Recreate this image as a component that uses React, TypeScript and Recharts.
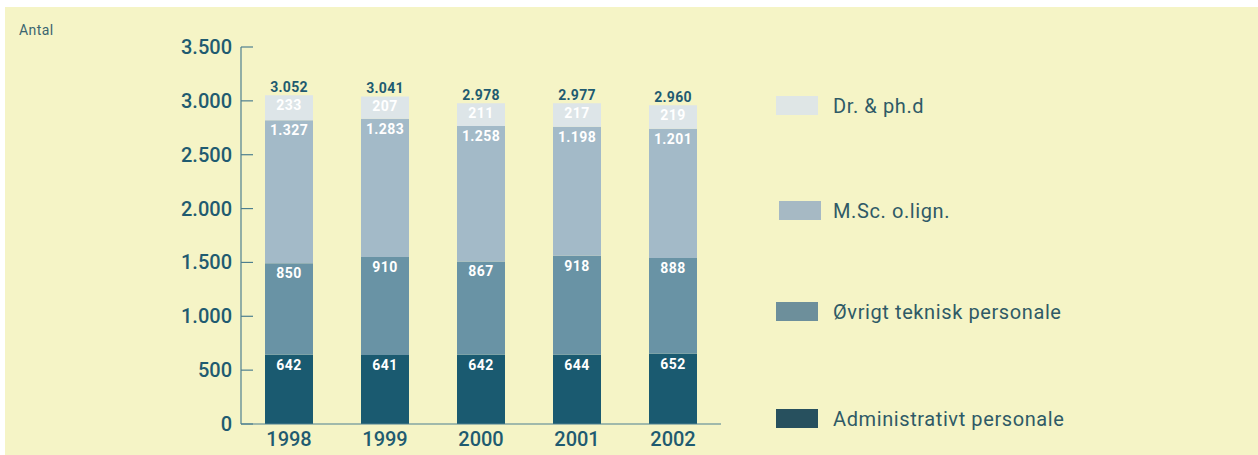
import React from 'react';
import { BarChart, Bar, XAxis, YAxis, LabelList } from 'recharts';

const years = ['1998', '1999', '2000', '2001', '2002'];
const admin = [642, 641, 642, 644, 652];
const tekniker = [850, 910, 867, 918, 888];
const msc = [1327, 1283, 1258, 1198, 1201];
const phd = [233, 207, 211, 217, 219];
const yTicks = [0, 500, 1000, 1500, 2000, 2500, 3000, 3500];

const seriesNames = ['Dr. & ph.d', 'M.Sc. o.lign.', 'Øvrigt teknisk personale', 'Administrativt personale'];
const barColors = ['#dde5e8', '#a3bac8', '#6993a5', '#1a5a70'];
const legendColors = ['#dfe6e6', '#a6b9c4', '#6d8f9b', '#27505e'];

const data = years.map((year, i) => ({
  year,
  admin: admin[i],
  tekniker: tekniker[i],
  msc: msc[i],
  phd: phd[i],
  total: admin[i] + tekniker[i] + msc[i] + phd[i],
}));

const FONT = 'Roboto, "DejaVu Sans", sans-serif';
const INK = '#1f5b70';
const AXIS = '#4d7f8f';

const fmt = (v: number) => v.toLocaleString('da-DK');

const YTick = (props: any) => {
  const { x, y, payload } = props;
  return (
    <g>
      <line x1={x} x2={x + 12} y1={y} y2={y} stroke={AXIS} strokeWidth={1.2} />
      <text x={x - 9} y={y} dy={7} textAnchor="end" fill={INK} fontSize={20} fontFamily={FONT} fontWeight={500}>
        {fmt(payload.value)}
      </text>
    </g>
  );
};

const XTick = (props: any) => {
  const { x, y, payload } = props;
  return (
    <text x={x} y={y} dy={20} textAnchor="middle" fill={INK} fontSize={20} fontFamily={FONT} fontWeight={500}>
      {payload.value}
    </text>
  );
};

const inside = (props: any) => {
  const { x, y, width, value } = props;
  return (
    <text x={x + width / 2} y={y + 15} textAnchor="middle" fill="#ffffff" fontSize={14} fontWeight={700} fontFamily={FONT} letterSpacing={0.4}>
      {fmt(value)}
    </text>
  );
};

const totalLabel = (props: any) => {
  const { x, y, width, value } = props;
  return (
    <text x={x + width / 2} y={y - 3} textAnchor="middle" fill={INK} fontSize={14} fontWeight={700} fontFamily={FONT} letterSpacing={0.3}>
      {fmt(value)}
    </text>
  );
};

const legendTops = [96, 201, 302, 409];
const legendLefts = [776, 779, 776, 776];

export default function App() {
  return (
    <div style={{ position: 'absolute', left: 0, top: 0, width: 1258, height: 455, background: '#ffffff' }}>
      <div style={{ position: 'absolute', left: 5, top: 7, width: 1253, height: 448, background: '#f5f4c6' }}>
        <div style={{ position: 'absolute', left: 14, top: 15, fontFamily: FONT, fontSize: 14, color: '#3b6570', letterSpacing: 0.4 }}>Antal</div>
        <BarChart
          width={1253}
          height={448}
          data={data}
          margin={{ top: 40, right: 537, bottom: 0, left: 0 }}
          barSize={48}
        >
          <YAxis
            type="number"
            domain={[0, 3500]}
            ticks={yTicks}
            width={236}
            tickLine={false}
            tickSize={0}
            tickMargin={0}
            axisLine={{ stroke: AXIS, strokeWidth: 1.2 }}
            tick={<YTick />}
            interval={0}
          />
          <XAxis
            dataKey="year"
            height={31}
            tickLine={false}
            tickSize={0}
            axisLine={{ stroke: AXIS, strokeWidth: 1.2 }}
            tick={<XTick />}
          />
          <Bar dataKey="admin" stackId="a" fill={barColors[3]} isAnimationActive={false}>
            <LabelList dataKey="admin" content={inside} />
          </Bar>
          <Bar dataKey="tekniker" stackId="a" fill={barColors[2]} isAnimationActive={false}>
            <LabelList dataKey="tekniker" content={inside} />
          </Bar>
          <Bar dataKey="msc" stackId="a" fill={barColors[1]} isAnimationActive={false}>
            <LabelList dataKey="msc" content={inside} />
          </Bar>
          <Bar dataKey="phd" stackId="a" fill={barColors[0]} isAnimationActive={false}>
            <LabelList dataKey="phd" content={inside} />
            <LabelList dataKey="total" content={totalLabel} />
          </Bar>
        </BarChart>
      </div>
      {seriesNames.map((name, i) => (
        <div key={name} style={{ position: 'absolute', left: legendLefts[i], top: legendTops[i], display: 'flex', alignItems: 'center', height: 19 }}>
          <div style={{ width: 42, height: 19, background: legendColors[i] }} />
          <div style={{ position: 'absolute', left: 833 - legendLefts[i], whiteSpace: 'nowrap', fontFamily: FONT, fontSize: 20, color: '#2f5a66', letterSpacing: 0.6 }}>
            {name}
          </div>
        </div>
      ))}
    </div>
  );
}
